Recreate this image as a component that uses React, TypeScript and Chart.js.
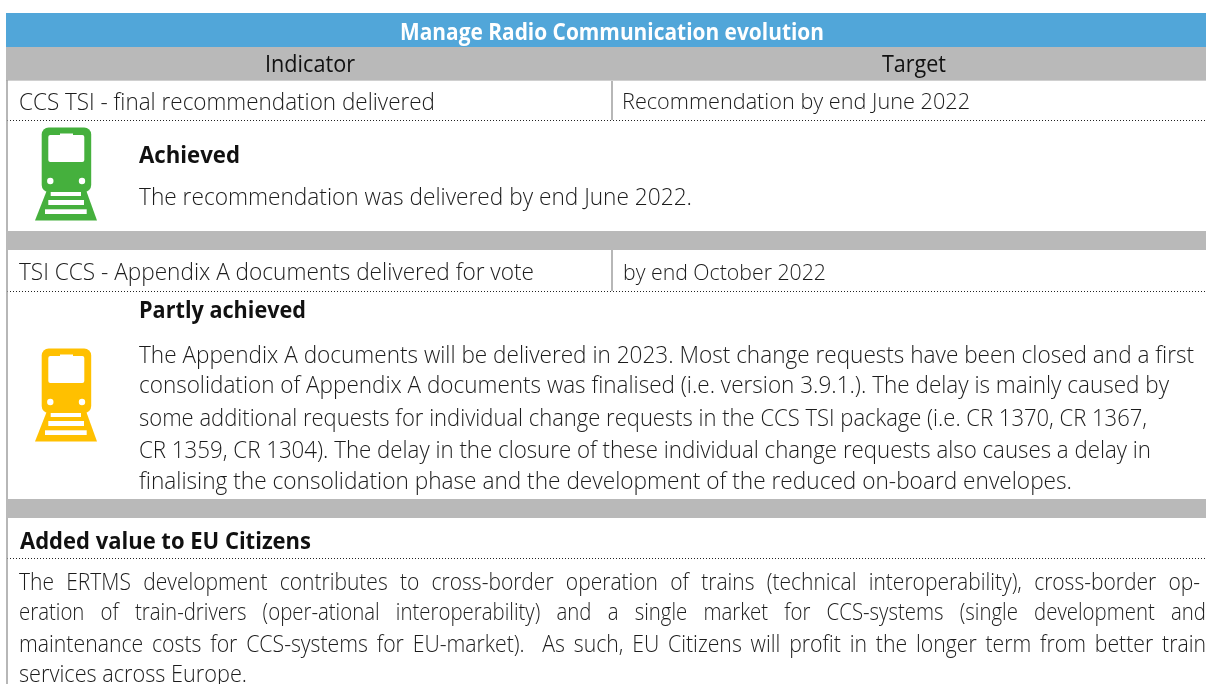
import React, { useEffect, useRef } from "react";
import { Chart, registerables } from "chart.js";

Chart.register(...registerables);

const W = 1206;
const H = 684;

const titleText = "Manage Radio Communication evolution";
const headerLabels = ["Indicator", "Target"];
const indicatorOne = ["CCS TSI - final recommendation delivered", "Recommendation by end June 2022"];
const indicatorTwo = ["TSI CCS - Appendix A documents delivered for vote", "by end October 2022"];
const statusOne = ["Achieved", "The recommendation was delivered by end June 2022."];
const statusTwo = [
  "Partly achieved",
  "The Appendix A documents will be delivered in 2023. Most change requests have been closed and a first",
  "consolidation of Appendix A documents was finalised (i.e. version 3.9.1.). The delay is mainly caused by",
  "some additional requests for individual change requests in the CCS TSI package (i.e. CR 1370, CR 1367,",
  "CR 1359, CR 1304). The delay in the closure of these individual change requests also causes a delay in",
  "finalising the consolidation phase and the development of the reduced on-board envelopes.",
];
const valueHeading = "Added value to EU Citizens";
const valueLines = [
  "The ERTMS development contributes to cross-border operation of trains (technical interoperability), cross-border op-",
  "eration of train-drivers (oper-ational interoperability) and a single market for CCS-systems (single development and",
  "maintenance costs for CCS-systems for EU-market).  As such, EU Citizens will profit in the longer term from better train",
  "services across Europe.",
];

const BLUE = "#51a6d9";
const GREY = "#b9b9b9";
const RULE = "#a0a0a0";
const INK = "#1c1c1c";

type T = { s: string; x: number; end: number; y: number; size: number; bold?: boolean; regular?: boolean; color?: string; justify?: number };

const texts: T[] = [
  { s: titleText, x: 400, end: 824, y: 39.5, size: 24, bold: true, color: "#ffffff" },
  { s: headerLabels[0], x: 265, end: 355, y: 72, size: 24, regular: true, color: "#111111" },
  { s: headerLabels[1], x: 882, end: 946, y: 72, size: 24, regular: true, color: "#111111" },
  { s: indicatorOne[0], x: 19, end: 435, y: 110, size: 24 },
  { s: indicatorOne[1], x: 622, end: 970, y: 109, size: 22 },
  { s: statusOne[0], x: 139, end: 240, y: 163, size: 24, bold: true, color: "#111111" },
  { s: statusOne[1], x: 139, end: 692, y: 205, size: 24 },
  { s: indicatorTwo[0], x: 19, end: 534, y: 280, size: 24 },
  { s: indicatorTwo[1], x: 623, end: 826, y: 280, size: 22 },
  { s: statusTwo[0], x: 139, end: 306, y: 318, size: 24, bold: true, color: "#111111" },
  { s: statusTwo[1], x: 139, end: 1194, y: 363, size: 24 },
  { s: statusTwo[2], x: 139, end: 1169, y: 393, size: 24 },
  { s: statusTwo[3], x: 139, end: 1147, y: 426, size: 24 },
  { s: statusTwo[4], x: 139, end: 1151, y: 458, size: 24 },
  { s: statusTwo[5], x: 139, end: 1072, y: 489, size: 24 },
  { s: valueHeading, x: 20, end: 311, y: 549, size: 24, bold: true, color: "#111111" },
  { s: valueLines[0], x: 19, end: 1200, y: 590, size: 24, justify: 0.875 },
  { s: valueLines[1], x: 19, end: 1206, y: 620, size: 24, justify: 0.85 },
  { s: valueLines[2], x: 19, end: 1206, y: 652, size: 24, justify: 0.885 },
  { s: valueLines[3], x: 19, end: 247, y: 682, size: 24 },
];

const seg = (x0: number, y0: number, x1: number, y1: number, color: string, width: number, dash: number[] = []) => ({
  data: [{ x: x0, y: y0 }, { x: x1, y: y1 }],
  borderColor: color,
  borderWidth: width,
  borderDash: dash,
  pointRadius: 0,
  clip: false as const,
  tension: 0,
});

const band = (y0: number, y1: number, color: string) => seg(6, (y0 + y1) / 2, W, (y0 + y1) / 2, color, y1 - y0);

const trainShape = (ctx: CanvasRenderingContext2D, dy: number, color: string) => {
  ctx.save();
  ctx.translate(0, dy);
  ctx.fillStyle = color;
  ctx.beginPath();
  ctx.roundRect(41.7, 127.5, 49.5, 64.5, 7);
  ctx.fill();
  ctx.beginPath();
  ctx.moveTo(47, 190);
  ctx.lineTo(35, 220.5);
  ctx.lineTo(97, 220.5);
  ctx.lineTo(86, 190);
  ctx.closePath();
  ctx.fill();
  ctx.fillStyle = "#ffffff";
  ctx.beginPath();
  ctx.roundRect(48.3, 135, 36, 27, 2);
  ctx.fill();
  ctx.fillRect(60, 133.5, 13, 2);
  ctx.beginPath();
  ctx.arc(50.3, 181, 3.2, 0, Math.PI * 2);
  ctx.arc(82, 181, 3.2, 0, Math.PI * 2);
  ctx.fill();
  ctx.fillRect(50.7, 192, 30.3, 4);
  ctx.fillRect(48.3, 200, 35.7, 5);
  ctx.fillRect(45, 209.3, 41.7, 4.7);
  ctx.restore();
};

const tablePlugin = {
  id: "tableText",
  afterDatasetsDraw(chart: Chart) {
    const ctx = chart.ctx;
    trainShape(ctx, 0, "#45b03d");
    trainShape(ctx, 221, "#ffc000");
    ctx.textBaseline = "alphabetic";
    ctx.textAlign = "left";
    for (const t of texts) {
      ctx.save();
      ctx.font = `${t.bold ? 700 : t.regular ? 400 : 300} ${t.size}px "Open Sans"`;
      ctx.fillStyle = t.color ?? INK;
      const natural = ctx.measureText(t.s).width;
      const target = t.end - t.x;
      let scale = target / natural;
      if (t.justify) {
        scale = t.justify;
        const gaps = t.s.split(" ").length - 1;
        (ctx as any).wordSpacing = `${(target / scale - natural) / gaps}px`;
      }
      ctx.translate(t.x, t.y);
      ctx.scale(scale, 1);
      ctx.fillText(t.s, 0, 0);
      ctx.restore();
    }
  },
};

export default function App() {
  const ref = useRef<HTMLCanvasElement>(null);
  useEffect(() => {
    if (!ref.current) return;
    const chart = new Chart(ref.current, {
      type: "line",
      data: {
        datasets: [
          band(13, 47, BLUE),
          band(47, 80, GREY),
          band(231, 250, GREY),
          band(499, 518, GREY),
          seg(7, 47, 7, H, RULE, 1.5),
          seg(6, 80.5, W, 80.5, "#d0d0d0", 1),
          seg(612, 47, 612, 80, "#e4e4e4", 1.5),
          seg(612, 80, 612, 120, RULE, 1.5),
          seg(612, 250, 612, 291, RULE, 1.5),
          seg(7, 120.5, W, 120.5, "#222222", 1, [1, 2]),
          seg(7, 291.5, W, 291.5, "#222222", 1, [1, 2]),
          seg(7, 558.5, W, 558.5, "#222222", 1, [1, 2]),
        ] as any,
      },
      options: {
        responsive: false,
        animation: false,
        layout: { padding: 0 },
        plugins: { legend: { display: false }, tooltip: { enabled: false }, title: { display: false } },
        scales: {
          x: { type: "linear", min: 0, max: W, display: false },
          y: { type: "linear", min: 0, max: H, reverse: true, display: false },
        },
      },
      plugins: [tablePlugin as any],
    });
    return () => chart.destroy();
  }, []);
  return (
    <div style={{ position: "fixed", left: 0, top: 0, width: W, height: H, background: "#fff", overflow: "hidden" }}>
      <canvas ref={ref} width={W} height={H} style={{ display: "block" }} />
    </div>
  );
}
